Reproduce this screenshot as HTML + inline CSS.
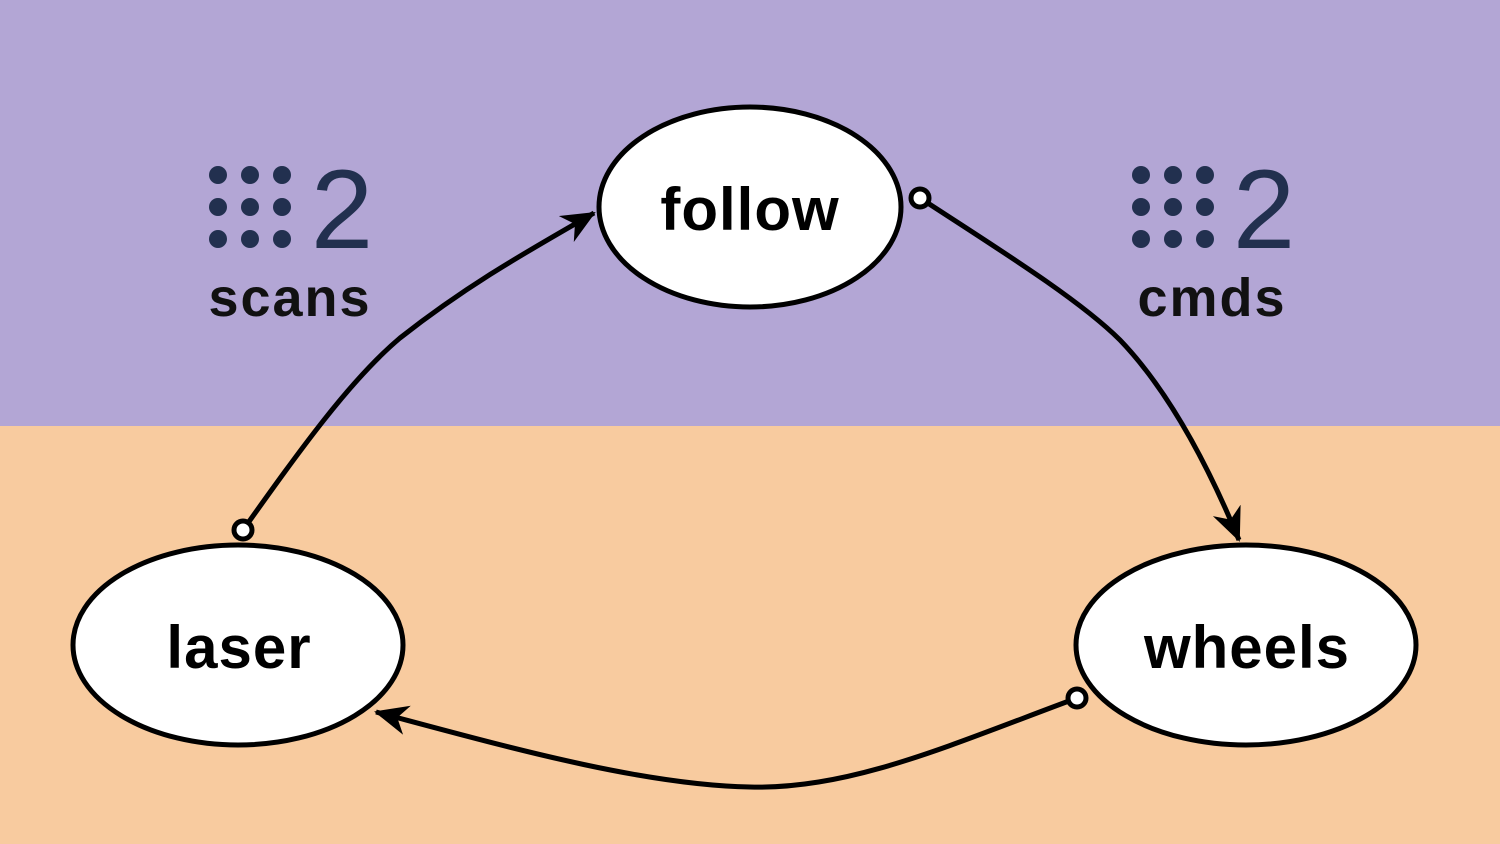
<!DOCTYPE html>
<html><head><meta charset="utf-8"><style>
html,body{margin:0;padding:0;width:1500px;height:844px;overflow:hidden}
svg{display:block}
text{font-family:"Liberation Sans",sans-serif}
</style></head><body>
<svg width="1500" height="844" viewBox="0 0 1500 844" xmlns="http://www.w3.org/2000/svg">
<defs>
<marker id="ah" markerWidth="36" markerHeight="32" refX="32" refY="15" orient="auto" markerUnits="userSpaceOnUse">
<path d="M0,0 L34,15 L0,30 L10,15 Z" fill="#000"/>
</marker>
</defs>
<rect x="0" y="0" width="1500" height="426" fill="#b3a6d5"/>
<rect x="0" y="426" width="1500" height="418" fill="#f8cb9f"/>
<g fill="none" stroke="#000" stroke-width="5">
<path d="M243,530 C300,450 350,380 400,338 C470,283 530,250 594,213" marker-end="url(#ah)"/>
<path d="M920,198 C1000,250 1080,300 1120,340 C1170,392 1210,470 1239,540" marker-end="url(#ah)"/>
<path d="M1077,698 C950,745 850,790 750,787 C640,785 500,745 376,712" marker-end="url(#ah)"/>
</g>
<g fill="#fff" stroke="#000" stroke-width="5">
<circle cx="243" cy="530" r="9"/>
<circle cx="920" cy="198" r="9"/>
<circle cx="1077" cy="698" r="9"/>
<ellipse cx="750" cy="207" rx="151" ry="100"/>
<ellipse cx="238" cy="645" rx="165" ry="100"/>
<ellipse cx="1246" cy="645" rx="170" ry="100"/>
</g>
<g font-weight="bold" font-size="60" text-anchor="middle" fill="#000" letter-spacing="1">
<text x="750" y="230">follow</text>
<text x="239" y="668">laser</text>
<text x="1247" y="668">wheels</text>
</g>
<g fill="#22304f">
<circle cx="218" cy="175" r="9"/><circle cx="250" cy="175" r="9"/><circle cx="282" cy="175" r="9"/>
<circle cx="218" cy="207" r="9"/><circle cx="250" cy="207" r="9"/><circle cx="282" cy="207" r="9"/>
<circle cx="218" cy="239" r="9"/><circle cx="250" cy="239" r="9"/><circle cx="282" cy="239" r="9"/>
<text x="342" y="248" font-size="112" text-anchor="middle">2</text>
<circle cx="1141" cy="175" r="9"/><circle cx="1173" cy="175" r="9"/><circle cx="1205" cy="175" r="9"/>
<circle cx="1141" cy="207" r="9"/><circle cx="1173" cy="207" r="9"/><circle cx="1205" cy="207" r="9"/>
<circle cx="1141" cy="239" r="9"/><circle cx="1173" cy="239" r="9"/><circle cx="1205" cy="239" r="9"/>
<text x="1264" y="248" font-size="112" text-anchor="middle">2</text>
</g>
<g font-weight="bold" font-size="54" text-anchor="middle" fill="#111" letter-spacing="2">
<text x="290" y="316">scans</text>
<text x="1212" y="316">cmds</text>
</g>
</svg>
</body></html>
